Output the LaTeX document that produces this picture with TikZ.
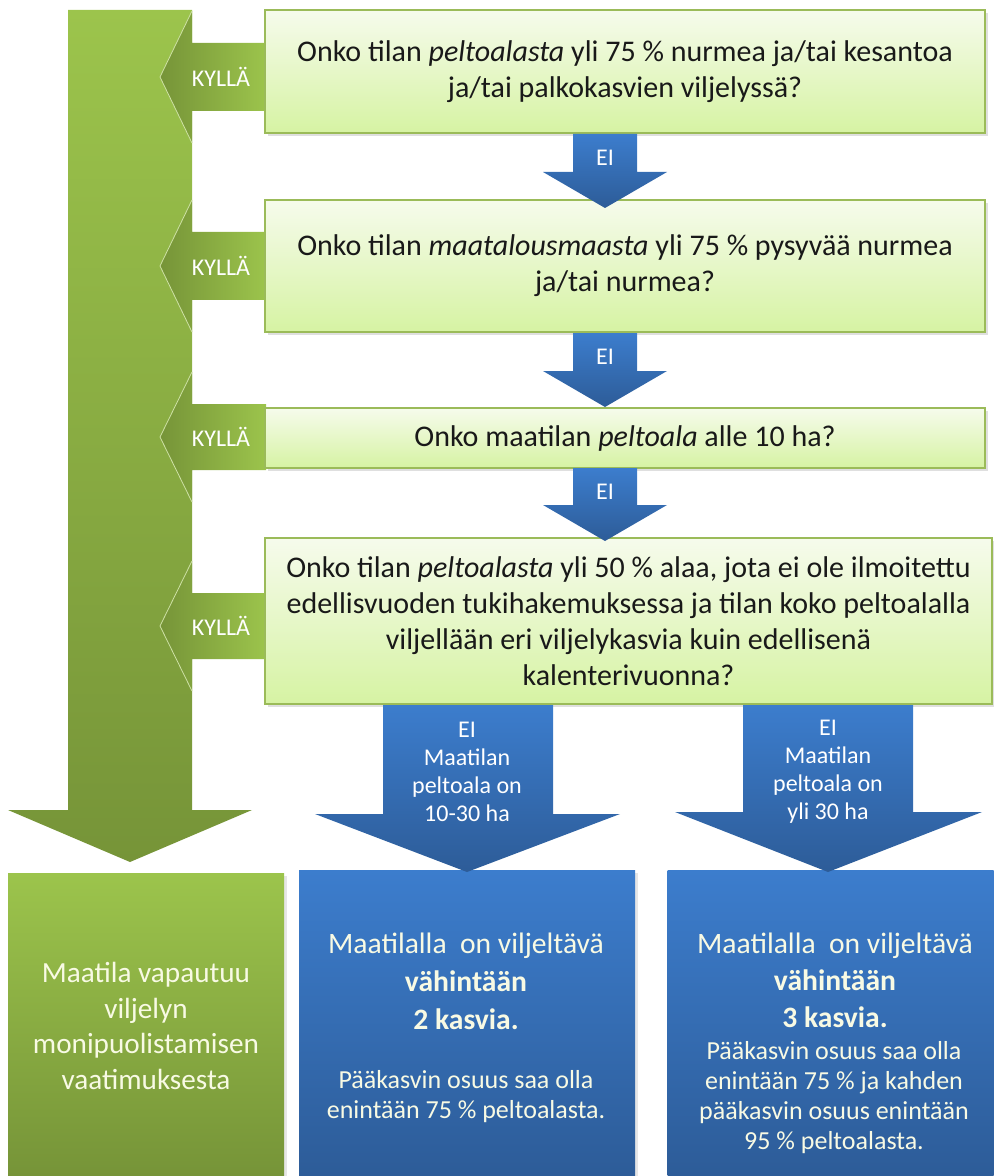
\documentclass[tikz,border=0pt]{standalone}
\usepackage{fontspec}
\setmainfont{Carlito}
\usepackage{tikz}
\usetikzlibrary{positioning, shadows}

\definecolor{vihrea}{RGB}{156,196,76}
\definecolor{vihreatumma}{RGB}{118,148,56}
\definecolor{vaalea}{RGB}{246,251,236}
\definecolor{vaaleaala}{RGB}{214,243,163}
\definecolor{reuna}{RGB}{155,187,89}
\definecolor{sininen}{RGB}{60,125,205}
\definecolor{sininentumma}{RGB}{45,92,152}
\definecolor{vaaleateksti}{RGB}{248,250,228}

\begin{document}
\begin{tikzpicture}[x=0.5pt, y=-0.5pt]
\tikzstyle{question} = [rectangle, draw=reuna, line width=0.8pt, top color=vaalea, bottom color=vaaleaala, text=black!90, align=center, font=\fontsize{15}{18}\selectfont, drop shadow={opacity=0.25, shadow xshift=1.5pt, shadow yshift=-1.5pt}]
\tikzstyle{yes} = [left color=vihreatumma, right color=vihrea]
\tikzstyle{no} = [top color=sininen, bottom color=sininentumma]
\tikzstyle{kylla} = [text=white, font=\fontsize{12}{14}\selectfont]
\tikzstyle{eilabel} = [text=white, align=center, font=\fontsize{12}{14}\selectfont]
\tikzstyle{result} = [rectangle, inner sep=0pt, drop shadow={opacity=0.2, shadow xshift=1.5pt, shadow yshift=-1.5pt}]
\tikzstyle{resulttext} = [text=vaaleateksti, align=center]

\useasboundingbox (0,0) rectangle (993,1176);

% Iso vihreä nuoli
\shade[top color=vihrea, bottom color=vihreatumma] (68,10) -- (192,10) -- (192,810) -- (252,810) -- (130,862) -- (8,810) -- (68,810) -- cycle;

% KYLLÄ-nuolet
\shade[yes] (266,43) -- (192,43) -- (192,11) -- (160,77) -- (192,143) -- (192,111) -- (266,111) -- cycle;
\shade[yes] (266,232) -- (192,232) -- (192,200) -- (160,266) -- (192,332) -- (192,300) -- (266,300) -- cycle;
\shade[yes] (266,404) -- (192,404) -- (192,372) -- (160,437) -- (192,502) -- (192,470) -- (266,470) -- cycle;
\shade[yes] (266,593) -- (192,593) -- (192,561) -- (160,626) -- (192,691) -- (192,659) -- (266,659) -- cycle;
\draw[vihrea!50!white, line width=0.4pt] (192,11) -- (160,77) -- (192,143);
\draw[vihrea!50!white, line width=0.4pt] (192,200) -- (160,266) -- (192,332);
\draw[vihrea!50!white, line width=0.4pt] (192,372) -- (160,437) -- (192,502);
\draw[vihrea!50!white, line width=0.4pt] (192,561) -- (160,626) -- (192,691);
\node[kylla] (k1) at (221,77) {KYLLÄ};
\node[kylla] (k2) at (221,266) {KYLLÄ};
\node[kylla] (k3) at (221,437) {KYLLÄ};
\node[kylla] (k4) at (221,626) {KYLLÄ};

% Kysymykset
\node[question, minimum width=360pt, minimum height=61.5pt] (q1) at (625,71.5) {Onko tilan \textit{peltoalasta} yli 75 \% nurmea ja/tai kesantoa\\ja/tai palkokasvien viljelyssä?};
\node[question, minimum width=360pt, minimum height=66pt] (q2) at (625,266) {Onko tilan \textit{maatalousmaasta} yli 75 \% pysyvää nurmea\\ja/tai nurmea?};
\node[question, minimum width=360pt, minimum height=30pt] (q3) at (625,438) {Onko maatilan \textit{peltoala} alle 10 ha?};
\node[question, minimum width=363.5pt, minimum height=83pt] (q4) at (628.5,621) {Onko tilan \textit{peltoalasta} yli 50 \% alaa, jota ei ole ilmoitettu\\edellisvuoden tukihakemuksessa ja tilan koko peltoalalla\\viljellään eri viljelykasvia kuin edellisenä\\kalenterivuonna?};

% EI-nuolet
\shade[no] (573,134) -- (637,134) -- (637,172) -- (667,172) -- (605,208) -- (543,172) -- (573,172) -- cycle;
\shade[no] (573,333) -- (637,333) -- (637,371) -- (667,371) -- (605,407) -- (543,371) -- (573,371) -- cycle;
\shade[no] (573,468) -- (637,468) -- (637,505) -- (667,505) -- (605,541) -- (543,505) -- (573,505) -- cycle;
\node[eilabel] (e1) at (605,158) {EI};
\node[eilabel] (e2) at (605,357) {EI};
\node[eilabel] (e3) at (605,492) {EI};

% Tulokset
\node[result, top color=vihrea, bottom color=vihreatumma, minimum width=138pt, minimum height=151.5pt] (vapaa) at (146,1024.5) {};
\node[result, top color=sininen, bottom color=sininentumma, minimum width=168pt, minimum height=153pt] (kaksi) at (467,1023) {};
\node[result, top color=sininen, bottom color=sininentumma, minimum width=163pt, minimum height=153pt] (kolme) at (830.5,1023) {};

\node[resulttext, font=\fontsize{14.6}{17.8}\selectfont] (vapaat) at (146,1026) {Maatila vapautuu\\viljelyn\\monipuolistamisen\\vaatimuksesta};
\node[resulttext, font=\fontsize{14.8}{19}\selectfont] (kaksiiso) at (466,981) {Maatilalla\ \ on viljeltävä\\\textbf{vähintään}\\\textbf{2 kasvia.}};
\node[resulttext, font=\fontsize{13}{15}\selectfont] (kaksipieni) at (466,1097) {Pääkasvin osuus saa olla\\enintään 75 \% peltoalasta.};
\node[resulttext, font=\fontsize{14.8}{18.5}\selectfont] (kolmeiso) at (835,980) {Maatilalla\ \ on viljeltävä\\\textbf{vähintään}\\\textbf{3 kasvia.}};
\node[resulttext, font=\fontsize{13}{15}\selectfont] (kolmepieni) at (834,1097.5) {Pääkasvin osuus saa olla\\enintään 75 \% ja kahden\\pääkasvin osuus enintään\\95 \% peltoalasta.};

% Alimmat siniset nuolet
\shade[no] (383,705) -- (553,705) -- (553,814) -- (620,814) -- (467,872) -- (315,814) -- (383,814) -- cycle;
\shade[no] (743,705) -- (913,705) -- (913,812) -- (982,812) -- (828,872) -- (675,812) -- (743,812) -- cycle;
\node[eilabel] (e4) at (467,771.5) {EI\\Maatilan\\peltoala on\\10-30 ha};
\node[eilabel] (e5) at (828,771.5) {EI\\Maatilan\\peltoala on\\yli 30 ha};

\end{tikzpicture}
\end{document}
